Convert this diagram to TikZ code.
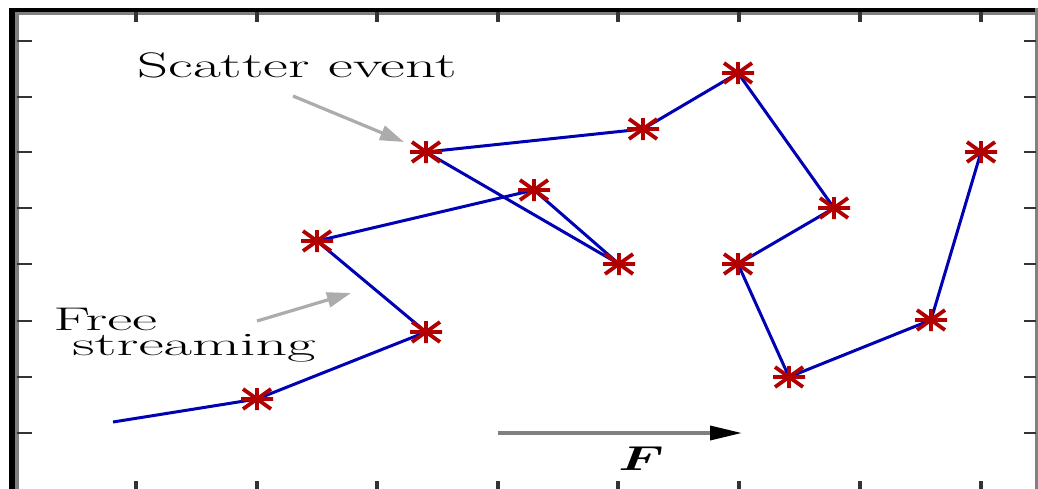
\documentclass[tikz,border=0pt]{standalone}
\usepackage{graphicx}
\usepackage{bm}
\usetikzlibrary{arrows.meta}
\definecolor{pathblue}{RGB}{0,0,180}
\definecolor{markred}{RGB}{178,0,0}
\definecolor{annogray}{RGB}{172,172,172}
\tikzset{
  walk/.style={pathblue, line width=1.5pt, line join=round},
  starmark/.style={markred, line width=1.9pt},
  ticka/.style={black!80, line width=1.7pt},
  tickb/.style={black!80, line width=1.3pt},
  anno/.style={annogray, line width=1.6pt, -{Triangle[length=12pt,width=7.5pt]}},
  force/.style={black!50, line width=1.8pt, -{Triangle[length=16pt,width=7pt,color=black]}},
  lbl/.style={inner sep=0pt, anchor=base west},
}
\newcommand\starat[1]{%
  \draw[starmark] ([shift={(-14,-10)}]#1) -- ([shift={(14,10)}]#1)
                  ([shift={(-14,10)}]#1) -- ([shift={(14,-10)}]#1)
                  ([shift={(-16,0)}]#1) -- ([shift={(16,0)}]#1)
                  ([shift={(0,-11)}]#1) -- ([shift={(0,11)}]#1);}
\begin{document}
\begin{tikzpicture}[x=0.5pt,y=-0.5pt]
\useasboundingbox (0,0) rectangle (1038,488);
\clip (0,0) rectangle (1038,488);
\fill[white] (0,0) rectangle (1038,488);

% frame
\draw[black, line width=1.7pt] (9,10) -- (1038,10);
\draw[black!50, line width=1.6pt] (9,13.3) -- (1038,13.3);
\draw[black, line width=2.85pt] (12.2,8) -- (12.2,490);
\draw[black!50, line width=2.1pt] (17.2,12) -- (17.2,490);
\draw[black!50, line width=1.5pt] (1036.5,8) -- (1036.5,490);
\foreach \x in {136,257,377,498,618,739,860,981}{
  \draw[ticka] (\x,12) -- (\x,22);
  \draw[ticka] (\x,481) -- (\x,490);
}
\foreach \y in {41,97,152,208,264,321,377,433}{
  \draw[tickb] (17,\y) -- (32,\y);
  \draw[tickb] (1024,\y) -- (1036,\y);
}

% walk points
\coordinate (p0) at (113,422);
\coordinate (p1) at (257,399);
\coordinate (p2) at (426,332);
\coordinate (p3) at (317,241);
\coordinate (p4) at (534,190);
\coordinate (p5) at (619,264);
\coordinate (p6) at (426,152);
\coordinate (p7) at (643,129);
\coordinate (p8) at (738,73);
\coordinate (p9) at (834,208);
\coordinate (p10) at (738,264);
\coordinate (p11) at (789,377);
\coordinate (p12) at (931,320);
\coordinate (p13) at (981,152);

\draw[walk] (p0) -- (p1) -- (p2) -- (p3) -- (p4) -- (p5) -- (p6) -- (p7)
  -- (p8) -- (p9) -- (p10) -- (p11) -- (p12) -- (p13);
\foreach \i in {1,...,13}{\starat{p\i}}

% labels
\node[lbl, font=\fontsize{17.75}{20}\selectfont] (scat) at (137,77) {\scalebox{1.71}[1]{Scatter event}};
\node[lbl, font=\fontsize{16.4}{18}\selectfont] (free) at (53,330) {\scalebox{1.87}[1]{Free}};
\node[lbl, font=\fontsize{16.4}{18}\selectfont] (strm) at (72,355) {\scalebox{1.89}[1]{streaming}};

\coordinate (a1s) at (293,96);
\coordinate (a1e) at (404,142);
\coordinate (a2s) at (257,321);
\coordinate (a2e) at (351,293);
\draw[anno] (a1s) -- (a1e);
\draw[anno] (a2s) -- (a2e);

\coordinate (fs) at (498,433);
\coordinate (fe) at (742,433);
\draw[force] (fs) -- (fe);
\node[inner sep=0pt, anchor=base, font=\fontsize{17.5}{20}\selectfont] (flbl) at (641,470) {\scalebox{1.55}[1]{$\bm{F}$}};
\end{tikzpicture}
\end{document}
